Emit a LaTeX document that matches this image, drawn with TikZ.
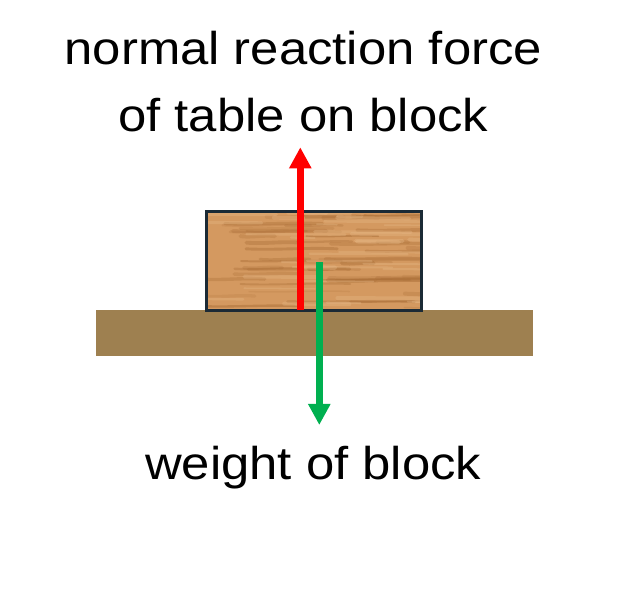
\documentclass[tikz,border=0pt]{standalone}
\usepackage{fontspec}
\setmainfont{Liberation Sans}
\usetikzlibrary{arrows.meta}
\definecolor{woodbase}{RGB}{212,153,96}
\definecolor{wooddark}{RGB}{165,105,50}
\definecolor{woodlight}{RGB}{232,186,136}
\definecolor{tablecol}{RGB}{158,128,80}
\definecolor{edgecol}{RGB}{27,42,53}
\definecolor{normalred}{RGB}{255,0,0}
\definecolor{weightgreen}{RGB}{0,176,80}
\tikzset{
  lbl/.style={inner sep=0pt, anchor=base, font=\fontsize{46}{55}\selectfont},
  tablebox/.style={fill=tablecol, draw=none, inner sep=0pt, minimum width=437pt, minimum height=46pt},
  blockbox/.style={fill=woodbase, draw=none, inner sep=0pt,
    minimum width=215pt, minimum height=98pt},
  blockedge/.style={draw=edgecol, line width=3pt},
  force/.style={line width=7pt, -{Triangle[width=21pt,length=21pt]}},
}
\newcommand{\stretchtext}[1]{\scalebox{1.105}[1]{#1}}
\begin{document}
\begin{tikzpicture}[x=1pt,y=-1pt]
\useasboundingbox (0,0) rectangle (640,593);
\fill[white] (0,0) rectangle (640,593);
% table
\node[tablebox] (table) at (314.7,333) {};
% block
\node[blockbox] (block) at (314.2,261.2) {};
\begin{scope}
  \clip (block.south west) rectangle (block.north east);
  \pgfmathsetseed{11}
  \foreach \i in {1,...,50}{
    \pgfmathsetmacro{\yy}{212+rnd*98}
    \pgfmathsetmacro{\xa}{195+rnd*220}
    \pgfmathsetmacro{\ll}{30+rnd*100}
    \pgfmathsetmacro{\ww}{1.5+rnd*3}
    \pgfmathsetmacro{\op}{0.15+rnd*0.3}
    \draw[wooddark, opacity=\op, line width=\ww pt, line cap=round]
      (\xa,\yy) .. controls (\xa+\ll*0.33,\yy+1.5) and (\xa+\ll*0.66,\yy-1.5) .. (\xa+\ll,\yy);
  }
  \foreach \i in {1,...,35}{
    \pgfmathsetmacro{\yy}{212+rnd*98}
    \pgfmathsetmacro{\xa}{195+rnd*220}
    \pgfmathsetmacro{\ll}{20+rnd*80}
    \pgfmathsetmacro{\ww}{1.5+rnd*3}
    \draw[woodlight, opacity=0.35, line width=\ww pt, line cap=round]
      (\xa,\yy) -- (\xa+\ll,\yy+0.5);
  }
\end{scope}
\draw[blockedge] (block.south west) rectangle (block.north east);
% arrow anchor points
\coordinate (nbase) at (300.3,310.5);
\coordinate (ntip) at (300.3,147.3);
\coordinate (wbase) at (319.3,262.3);
\coordinate (wtip) at (319.3,425);
\draw[force, normalred] (nbase) -- (ntip);
\draw[force, weightgreen] (wbase) -- (wtip);
% labels
\node[lbl] (lab1) at (303.3,65) {\stretchtext{normal reaction force}};
\node[lbl] (lab2) at (303.3,132) {\stretchtext{of table on block}};
\node[lbl] (lab3) at (313.3,479.5) {\stretchtext{weight of block}};
\end{tikzpicture}
\end{document}
